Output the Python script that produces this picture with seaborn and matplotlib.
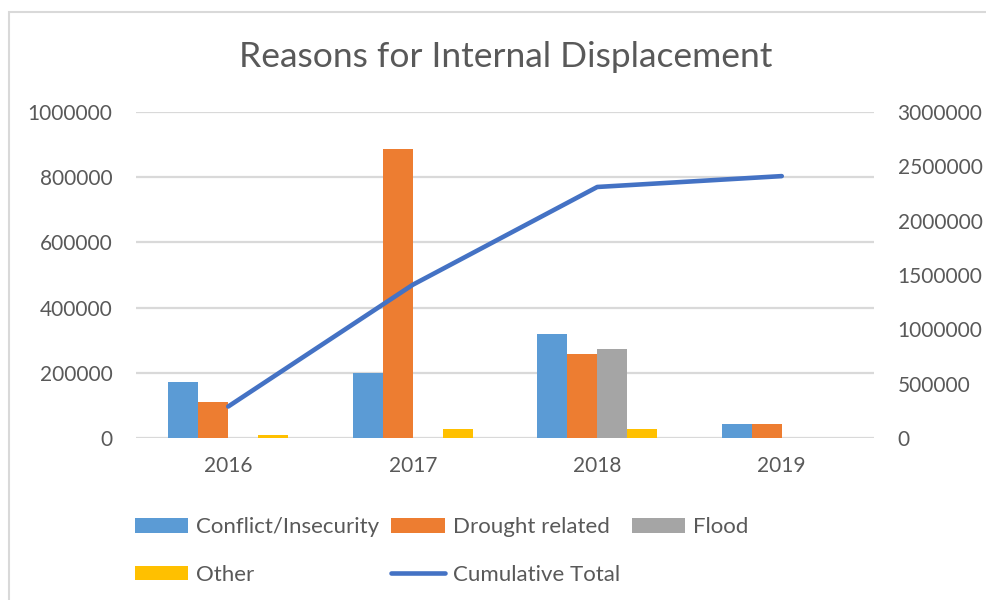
import numpy as np
import pandas as pd
import seaborn as sns
import matplotlib.pyplot as plt
from matplotlib.patches import Patch, Rectangle
from matplotlib.lines import Line2D

# data
years = ["2016", "2017", "2018", "2019"]
conflict = [171000, 198000, 318000, 43000]
drought = [111000, 886000, 257000, 43000]
flood = [0, 0, 272000, 0]
other = [10000, 27000, 28000, 0]
cumulative = [290000, 1410000, 2310000, 2410000]

series_names = ["Conflict/Insecurity", "Drought related", "Flood", "Other"]
colors = ["#5B9BD5", "#ED7D31", "#A5A5A5", "#FFC000"]
line_color = "#4472C4"
grey = "#595959"

# long table for seaborn
df = pd.DataFrame({"Year": years, series_names[0]: conflict, series_names[1]: drought,
                   series_names[2]: flood, series_names[3]: other})
long = df.melt(id_vars="Year", var_name="Reason", value_name="People")

sns.set_theme(style="white")
plt.rcParams["font.family"] = ["Lato", "DejaVu Sans"]

fig = plt.figure(figsize=(9.87, 6), dpi=100)
ax = fig.add_axes([136 / 987, 1 - 438 / 600, (874 - 136) / 987, (438 - 112) / 600])

sns.barplot(data=long, x="Year", y="People", hue="Reason", order=years,
            hue_order=series_names, palette=colors, width=0.65, linewidth=0,
            saturation=1, ax=ax, legend=False)
ax.set_ylim(0, 1000000)
ax.set_yticks(np.arange(0, 1000001, 200000))
ax.set_yticklabels([str(v) for v in range(0, 1000001, 200000)])
ax.grid(axis="y", color="#D9D9D9", linewidth=1.6)
ax.set_axisbelow(True)
ax.set_xlabel("")
ax.set_ylabel("")
ax.tick_params(axis="y", length=0, pad=17, labelsize=15, labelcolor=grey)
ax.tick_params(axis="x", length=0, pad=13, labelsize=15, labelcolor=grey)
for s in ax.spines.values():
    s.set_visible(False)

ax2 = ax.twinx()
sns.lineplot(x=np.arange(len(years)), y=cumulative, color=line_color, linewidth=3.3,
             ax=ax2, legend=False)
ax2.set_ylim(0, 3000000)
ax2.set_yticks(np.arange(0, 3000001, 500000))
ax2.set_yticklabels([str(v) for v in range(0, 3000001, 500000)])
ax2.tick_params(axis="y", length=0, pad=17, labelsize=15, labelcolor=grey)
ax2.set_ylabel("")
for s in ax2.spines.values():
    s.set_visible(False)
ax.set_xlim(-0.5, len(years) - 0.5)

# title
fig.text(0.512, 1 - 57 / 600, "Reasons for Internal Displacement", ha="center",
         va="center", fontsize=25.5, color=grey)

# legend, in Excel order (3 columns, filled column by column in matplotlib)
h = {n: Patch(facecolor=c, edgecolor="none") for n, c in zip(series_names, colors)}
h["Cumulative Total"] = Line2D([0], [0], color=line_color, linewidth=3.3)
order = ["Conflict/Insecurity", "Other", "Drought related", "Cumulative Total", "Flood"]
fig.legend([h[k] for k in order], order, loc="upper left",
           bbox_to_anchor=(135 / 987, 1 - 517 / 600), ncol=3, frameon=False,
           fontsize=16, labelcolor=grey, handlelength=2.4, handleheight=0.65,
           handletextpad=0.35, columnspacing=0.55, labelspacing=1.25, borderpad=0,
           borderaxespad=0)

# chart border (only top and left edges are visible in the reference)
fig.patches.append(Rectangle((9 / 987, -0.1), 1.2, 1 - 12 / 600 + 0.1,
                             transform=fig.transFigure, fill=False,
                             edgecolor="#D9D9D9", linewidth=1.5))

fig.savefig("out.png", dpi=100)
